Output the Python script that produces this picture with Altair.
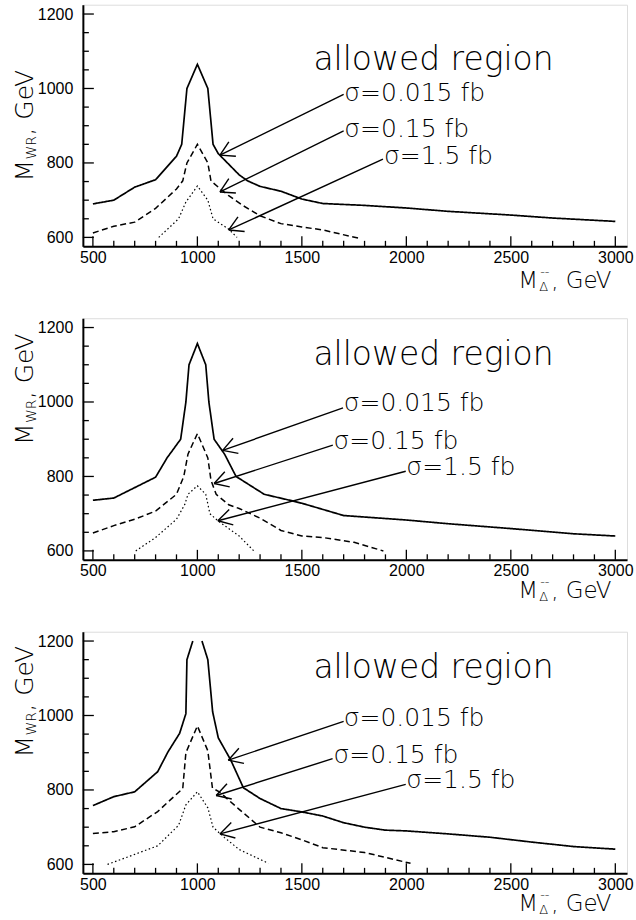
import math
import altair as alt
import pandas as pd

# ---------------- axes / scales ----------------
X_DOMAIN = [452, 3056]
Y_DOMAIN = [576, 1225]
PW, PH = 545, 242

X_LABELS = [500, 1000, 1500, 2000, 2500, 3000]
Y_LABELS = [600, 800, 1000, 1200]
X_TICKS = list(range(500, 3001, 100))
Y_TICKS = list(range(600, 1201, 50))

# ---------------- panel 1 ----------------
p1_solid_x = [500, 600, 700, 800, 900, 925, 950, 1000, 1050, 1075, 1100, 1200, 1240, 1300, 1400, 1500, 1600, 1800, 2000, 2200, 2500, 2700, 3000]
p1_solid_y = [690, 700, 735, 755, 818, 850, 1000, 1065, 1000, 850, 825, 768, 752, 737, 724, 703, 691, 686, 679, 670, 660, 652, 643]
p1_dash_x = [500, 600, 700, 800, 900, 930, 950, 1000, 1050, 1065, 1100, 1150, 1220, 1300, 1400, 1500, 1600, 1770]
p1_dash_y = [612, 630, 641, 678, 730, 752, 800, 850, 800, 752, 735, 712, 685, 658, 637, 628, 620, 598]
p1_dot_x = [815, 910, 945, 1000, 1050, 1075, 1150, 1190]
p1_dot_y = [600, 650, 695, 738, 700, 650, 622, 600]

# ---------------- panel 2 ----------------
p2_solid_x = [500, 600, 700, 800, 855, 920, 945, 960, 1000, 1040, 1055, 1080, 1130, 1185, 1320, 1450, 1500, 1700, 2000, 2200, 2500, 2800, 3000]
p2_solid_y = [736, 742, 770, 798, 850, 900, 1000, 1100, 1157, 1100, 1000, 900, 860, 800, 752, 735, 728, 695, 683, 673, 660, 646, 640]
p2_dash_x = [500, 600, 700, 800, 900, 935, 955, 1000, 1050, 1065, 1090, 1150, 1200, 1300, 1400, 1500, 1600, 1750, 1890]
p2_dash_y = [648, 668, 685, 707, 752, 800, 860, 915, 850, 790, 752, 724, 714, 688, 655, 640, 636, 623, 600]
p2_dot_x = [705, 800, 900, 940, 955, 1000, 1040, 1060, 1100, 1200, 1270]
p2_dot_y = [600, 636, 685, 725, 752, 775, 752, 700, 680, 640, 600]

# ---------------- panel 3 ----------------
p3_solidA_x = [500, 600, 700, 810, 860, 915, 945, 950, 978]
p3_solidA_y = [758, 782, 795, 849, 903, 952, 1005, 1150, 1200]
p3_solidB_x = [1022, 1050, 1073, 1100, 1160, 1220, 1300, 1400, 1500, 1600, 1700, 1800, 1900, 2000, 2200, 2400, 2600, 2800, 3000]
p3_solidB_y = [1200, 1150, 1010, 940, 880, 806, 777, 750, 741, 730, 712, 700, 692, 690, 682, 673, 660, 648, 641]
p3_dash_x = [500, 600, 700, 810, 930, 945, 1000, 1050, 1072, 1105, 1200, 1300, 1400, 1500, 1600, 1800, 2020]
p3_dash_y = [683, 688, 701, 742, 804, 900, 972, 905, 805, 795, 748, 700, 685, 666, 645, 632, 603]
p3_dot_x = [570, 700, 810, 910, 945, 1000, 1050, 1075, 1130, 1200, 1340]
p3_dot_y = [600, 627, 650, 705, 760, 795, 752, 700, 672, 640, 603]

# ---------------- annotations ----------------
sigma_labels = ["σ=0.015 fb", "σ=0.15 fb", "σ=1.5 fb"]
p1_label_x = [1703, 1703, 1893]
p1_label_y = [967, 869, 797]
p2_label_x = [1700, 1651, 2000]
p2_label_y = [975, 875, 805]
p3_label_x = [1700, 1651, 2000]
p3_label_y = [972, 872, 805]

p1_tail = [(1700, 984), (1700, 886), (1888, 810)]
p1_tip = [(1108, 821), (1108, 722), (1150, 620)]
p2_tail = [(1697, 984), (1648, 884), (1997, 814)]
p2_tip = [(1121, 870), (1080, 781), (1098, 681)]
p3_tail = [(1700, 984), (1647, 884), (1997, 815)]
p3_tip = [(1148, 880), (1090, 785), (1108, 682)]

region_text = "allowed region"
region_x = [2130, 2130, 2130]
region_y = [1050, 1100, 1100]

# ---------------- helpers ----------------
SX = PW / (X_DOMAIN[1] - X_DOMAIN[0])
SY = PH / (Y_DOMAIN[1] - Y_DOMAIN[0])

xs = alt.Scale(domain=X_DOMAIN, nice=False, zero=False)
ys = alt.Scale(domain=Y_DOMAIN, nice=False, zero=False)
xaxis = alt.Axis(values=X_LABELS, format="d", title=None, grid=False, ticks=False, tickSize=0,
                 labelFont="Liberation Sans", labelFontSize=16, labelColor="black",
                 labelPadding=3, labelFlush=False, labelOverlap=False,
                 domain=True, domainColor="black", domainWidth=2)
yaxis = alt.Axis(values=Y_LABELS, format="d", title=None, grid=False, ticks=False, tickSize=0,
                 labelFont="Liberation Sans", labelFontSize=16, labelColor="black",
                 labelPadding=10, labelFlush=False, labelOverlap=False,
                 domain=True, domainColor="black", domainWidth=2)

def X(field="x"):
    return alt.X(f"{field}:Q", scale=xs, axis=xaxis)

def Y(field="y"):
    return alt.Y(f"{field}:Q", scale=ys, axis=yaxis)

TFONT = "DejaVu Sans"
TWEIGHT = 200


def line_layer(segments, dash, width):
    rows = []
    for k, (xv, yv) in enumerate(segments):
        for i, (a, b) in enumerate(zip(xv, yv)):
            rows.append({"x": a, "y": b, "seg": k, "o": i})
    m = alt.Chart(pd.DataFrame(rows)).mark_line(color="black", strokeWidth=width,
                                                 strokeDash=dash if dash else [1, 0])
    return m.encode(x=X(), y=Y(), detail="seg:N", order="o:Q")


def arrow_layer(tails, tips, L=16, ang=30):
    rows = []
    for (tx, ty), (hx, hy) in zip(tails, tips):
        rows.append({"x": tx, "y": ty, "x2": hx, "y2": hy})
        dx = (tx - hx) * SX
        dy = -(ty - hy) * SY
        n = math.hypot(dx, dy)
        ux, uy = dx / n, dy / n
        for s in (1, -1):
            a = math.radians(ang * s)
            bx = (ux * math.cos(a) - uy * math.sin(a)) * L
            by = (ux * math.sin(a) + uy * math.cos(a)) * L
            rows.append({"x": hx, "y": hy, "x2": hx + bx / SX, "y2": hy - by / SY})
    return alt.Chart(pd.DataFrame(rows)).mark_rule(color="black", strokeWidth=1.4).encode(
        x=X(), y=Y(), x2="x2:Q", y2="y2:Q")


def tick_layers():
    ymaj = pd.DataFrame({"y": [v for v in Y_TICKS if v in Y_LABELS]})
    ymin = pd.DataFrame({"y": [v for v in Y_TICKS if v not in Y_LABELS]})
    xmaj = pd.DataFrame({"x": [v for v in X_TICKS if v in X_LABELS]})
    xmin = pd.DataFrame({"x": [v for v in X_TICKS if v not in X_LABELS]})
    r = dict(color="black", strokeWidth=1.3)
    return [
        alt.Chart(ymaj).mark_rule(**r).encode(y=Y(), x=alt.value(0), x2=alt.value(11)),
        alt.Chart(ymin).mark_rule(**r).encode(y=Y(), x=alt.value(0), x2=alt.value(6)),
        alt.Chart(xmaj).mark_rule(**r).encode(x=X(), y=alt.value(PH), y2=alt.value(PH - 10)),
        alt.Chart(xmin).mark_rule(**r).encode(x=X(), y=alt.value(PH), y2=alt.value(PH - 5.5)),
    ]


def text_layer(labels, lx, ly, size, align="left"):
    df = pd.DataFrame({"x": lx, "y": ly, "t": labels})
    return alt.Chart(df).mark_text(font=TFONT, fontSize=size, fontWeight=TWEIGHT, align=align,
                                   baseline="alphabetic", color="black").encode(
        x=X(), y=Y(), text="t:N")


one = pd.DataFrame({"k": [0]})


def fixed_text(txt, px, py, size, angle=0):
    kw = dict(font=TFONT, fontSize=size, fontWeight=TWEIGHT, align="left",
              baseline="alphabetic", color="black")
    if angle:
        kw["angle"] = angle
    return alt.Chart(one).mark_text(**kw).encode(x=alt.value(px), y=alt.value(py), text=alt.value(txt))


def axis_titles(ystart, xbase):
    # y title, rotated (reads bottom to top)
    bx = -50
    layers = [
        fixed_text("M", bx, ystart, 25, 270),
        fixed_text("WR", bx + 3, ystart - 22, 14, 270),
        fixed_text(", GeV", bx, ystart - 46, 25, 270),
    ]
    # x title
    x0 = 436
    layers += [
        fixed_text("M", x0, xbase, 23, 0),
        fixed_text("Δ", x0 + 21, xbase + 3, 13, 0),
        fixed_text("--", x0 + 22, xbase - 12, 13, 0),
        fixed_text(", GeV", x0 + 33, xbase, 23, 0),
    ]
    return layers


def panel(curves_solid, curve_dash, curve_dot, tails, tips, lab_x, lab_y, idx, ystart, xbase):
    layers = [
        line_layer(curves_solid, None, 1.7),
        line_layer([curve_dash], [6, 3.5], 1.5),
        line_layer([curve_dot], [1.5, 2.5], 1.2),
    ]
    layers += tick_layers()
    layers.append(arrow_layer(tails, tips))
    layers.append(text_layer(sigma_labels, lab_x, lab_y, 25))
    layers.append(text_layer([region_text], [region_x[idx]], [region_y[idx]], 33, "center"))
    layers += axis_titles(ystart, xbase)
    return alt.layer(*layers).properties(width=PW, height=PH)


c1 = panel([(p1_solid_x, p1_solid_y)], (p1_dash_x, p1_dash_y), (p1_dot_x, p1_dot_y),
           p1_tail, p1_tip, p1_label_x, p1_label_y, 0, 177, PH + 42)
c2 = panel([(p2_solid_x, p2_solid_y)], (p2_dash_x, p2_dash_y), (p2_dot_x, p2_dot_y),
           p2_tail, p2_tip, p2_label_x, p2_label_y, 1, 127, PH + 38)
c3 = panel([(p3_solidA_x, p3_solidA_y), (p3_solidB_x, p3_solidB_y)], (p3_dash_x, p3_dash_y),
           (p3_dot_x, p3_dot_y), p3_tail, p3_tip, p3_label_x, p3_label_y, 2, 126, PH + 38)

chart = alt.vconcat(c1, c2, c3, spacing=72, bounds="flush").properties(
    padding={"left": 12, "top": 3, "right": 2, "bottom": 2}
).configure_view(stroke="black", strokeWidth=1.3).configure(background="white")

chart.save("out.html", embed_options={"renderer": "svg", "actions": False})
